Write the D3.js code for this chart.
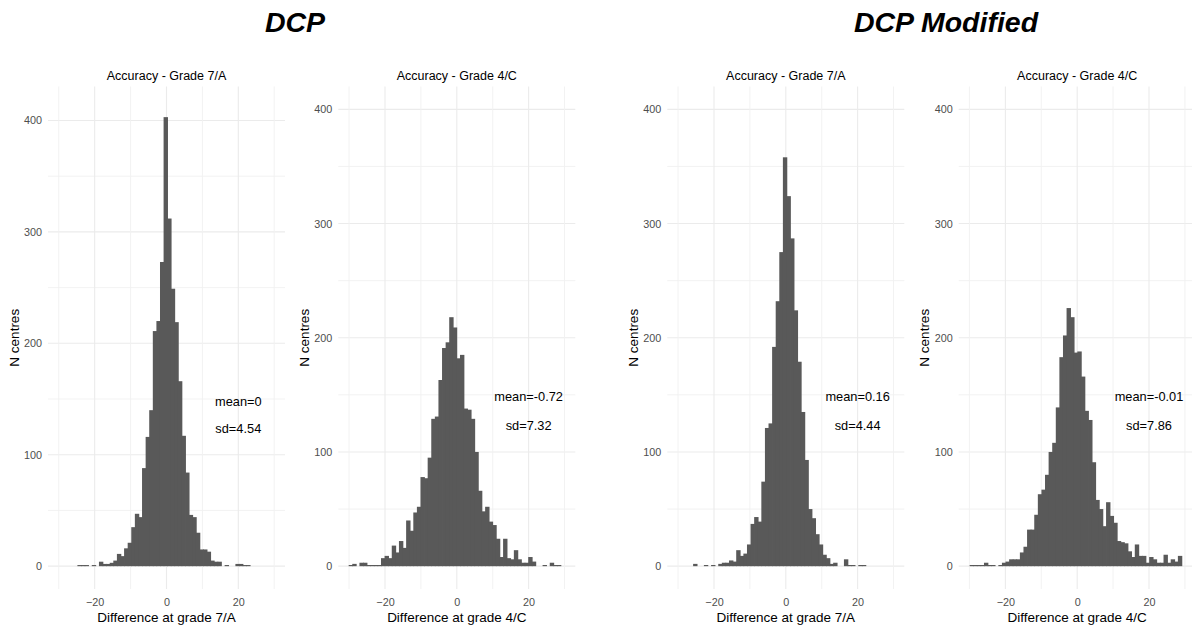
<!DOCTYPE html>
<html>
<head>
<meta charset="utf-8">
<script src="https://cdn.jsdelivr.net/npm/d3@7"></script>
<style>
  html, body { margin: 0; padding: 0; background: #ffffff; }
  svg { display: block; font-family: "Liberation Sans", Arial, sans-serif; }
</style>
</head>
<body>
<svg id="chart" width="1192" height="628"></svg>
<script>
// ---------------- data ----------------
const groupTitles = ["DCP", "DCP Modified"];
const panelTitles = ["Accuracy - Grade 7/A", "Accuracy - Grade 4/C", "Accuracy - Grade 7/A", "Accuracy - Grade 4/C"];
const xAxisTitles = ["Difference at grade 7/A", "Difference at grade 4/C", "Difference at grade 7/A", "Difference at grade 4/C"];
const yAxisTitle = "N centres";
const meanLabels = ["mean=0", "mean=-0.72", "mean=0.16", "mean=-0.01"];
const sdLabels = ["sd=4.54", "sd=7.32", "sd=4.44", "sd=7.86"];

// left edge of the first bin (bin width 1) and counts per bin
const binStarts = [-24.7, -30, -25.7, -29.85];
const counts7A = [1,1,1,0,1,0,4,2,2,3,5,11,9,16,21,35,47,44,88,116,140,211,220,273,403,312,249,219,166,117,84,46,44,30,15,15,13,5,4,4,0,1,0,0,2,2,1,1];
const counts4C = [1,2,0,3,3,1,1,1,1,7,9,7,18,12,22,16,40,31,47,52,78,77,95,129,131,163,191,196,218,209,182,185,138,137,129,100,66,48,52,39,36,24,8,24,7,6,14,6,3,3,8,4,0,0,1,0,3,1,1];
const counts7AMod = [2,0,0,1,0,1,0,2,3,3,5,4,14,9,11,19,37,43,39,74,121,125,192,232,275,358,324,287,224,179,135,93,50,42,28,19,10,7,2,3,0,0,6,1,1,0,1,1];
const counts4CMod = [1,1,1,1,3,1,1,0,1,3,4,6,6,6,12,17,32,32,45,63,67,80,100,108,139,183,202,226,218,187,188,166,136,128,91,58,50,35,56,44,38,22,21,20,13,8,19,9,9,3,8,6,3,3,10,3,6,4,9];
const binWidth = 1;

const xTicks = [-20, 0, 20];
const xGrid = [-30, -20, -10, 0, 10, 20, 30];
const yTicks = [0, 100, 200, 300, 400];
const yGrid = [0, 50, 100, 150, 200, 250, 300, 350, 400];
const xDomain = [-33, 33];
const yDomains = [[-20.5, 430.5], [-20, 420], [-20, 420], [-20, 420]];
const annotX = 20, meanY = 150, sdY = 125;

// ---------------- layout ----------------
const allCounts = [counts7A, counts4C, counts7AMod, counts4CMod];
const plotLefts = [48, 338.3, 667.3, 958.7];
const plotW = 237;
const plotTop = 86.5, plotBottom = 589;
const groupCenters = [295, 946];

const svg = d3.select("#chart");

svg.selectAll("text.group-title")
  .data(groupTitles)
  .join("text")
  .attr("class", "group-title")
  .attr("x", (d, i) => groupCenters[i])
  .attr("y", 32)
  .attr("text-anchor", "middle")
  .attr("font-size", "28.5px")
  .attr("font-weight", "bold")
  .attr("font-style", "italic")
  .attr("fill", "#000")
  .text(d => d);

allCounts.forEach((counts, i) => {
  const left = plotLefts[i];
  const x = d3.scaleLinear().domain(xDomain).range([left, left + plotW]);
  const y = d3.scaleLinear().domain(yDomains[i]).range([plotBottom, plotTop]);
  const g = svg.append("g");

  // grid
  g.selectAll("line.ygrid").data(yGrid).join("line")
    .attr("x1", left).attr("x2", left + plotW)
    .attr("y1", d => y(d)).attr("y2", d => y(d))
    .attr("stroke", d => d % 100 === 0 ? "#ebebeb" : "#f0f0f0")
    .attr("stroke-width", d => d % 100 === 0 ? 1.1 : 0.9);
  g.selectAll("line.xgrid").data(xGrid).join("line")
    .attr("y1", plotTop).attr("y2", plotBottom)
    .attr("x1", d => x(d)).attr("x2", d => x(d))
    .attr("stroke", d => d % 20 === 0 ? "#ebebeb" : "#f0f0f0")
    .attr("stroke-width", d => d % 20 === 0 ? 1.1 : 0.9);

  // bars
  const bins = counts.map((c, j) => ({ x0: binStarts[i] + j * binWidth, x1: binStarts[i] + (j + 1) * binWidth, n: c }))
    .filter(b => b.n > 0);
  g.selectAll("rect.bar").data(bins).join("rect")
    .attr("x", b => x(b.x0) - 0.4)
    .attr("width", b => x(b.x1) - x(b.x0) + 0.8)
    .attr("y", b => y(b.n))
    .attr("height", b => y(0) - y(b.n))
    .attr("fill", "#595959");

  // axes
  const ax = g.append("g").attr("transform", `translate(0,${plotBottom})`)
    .call(d3.axisBottom(x).tickValues(xTicks).tickSize(0).tickPadding(9).tickFormat(d3.format("d")));
  ax.select(".domain").remove();
  ax.selectAll("text").attr("font-size", "10.8px").attr("fill", "#4d4d4d")
    .attr("font-family", "'Liberation Sans', Arial, sans-serif");

  const ay = g.append("g").attr("transform", `translate(${left},0)`)
    .call(d3.axisLeft(y).tickValues(yTicks).tickSize(0).tickPadding(6).tickFormat(d3.format("d")));
  ay.select(".domain").remove();
  ay.selectAll("text").attr("font-size", "10.8px").attr("fill", "#4d4d4d")
    .attr("font-family", "'Liberation Sans', Arial, sans-serif");

  // titles
  g.append("text")
    .attr("x", left + plotW / 2).attr("y", 79.5)
    .attr("text-anchor", "middle").attr("font-size", "12.5px").attr("fill", "#000")
    .text(panelTitles[i]);
  g.append("text")
    .attr("x", left + plotW / 2).attr("y", 621.5)
    .attr("text-anchor", "middle").attr("font-size", "13.5px").attr("fill", "#000")
    .text(xAxisTitles[i]);
  g.append("text")
    .attr("transform", `translate(${left - 34},${(plotTop + plotBottom) / 2}) rotate(-90)`)
    .attr("text-anchor", "middle").attr("dominant-baseline", "central")
    .attr("font-size", "13.5px").attr("fill", "#000")
    .text(yAxisTitle);

  // annotations
  g.append("text")
    .attr("x", x(annotX)).attr("y", y(meanY))
    .attr("text-anchor", "middle").attr("dominant-baseline", "central")
    .attr("dy", 2)
    .attr("font-size", "12.8px").attr("fill", "#000")
    .text(meanLabels[i]);
  g.append("text")
    .attr("x", x(annotX)).attr("y", y(sdY))
    .attr("text-anchor", "middle").attr("dominant-baseline", "central")
    .attr("dy", 2)
    .attr("font-size", "12.8px").attr("fill", "#000")
    .text(sdLabels[i]);
});
</script>
</body>
</html>
